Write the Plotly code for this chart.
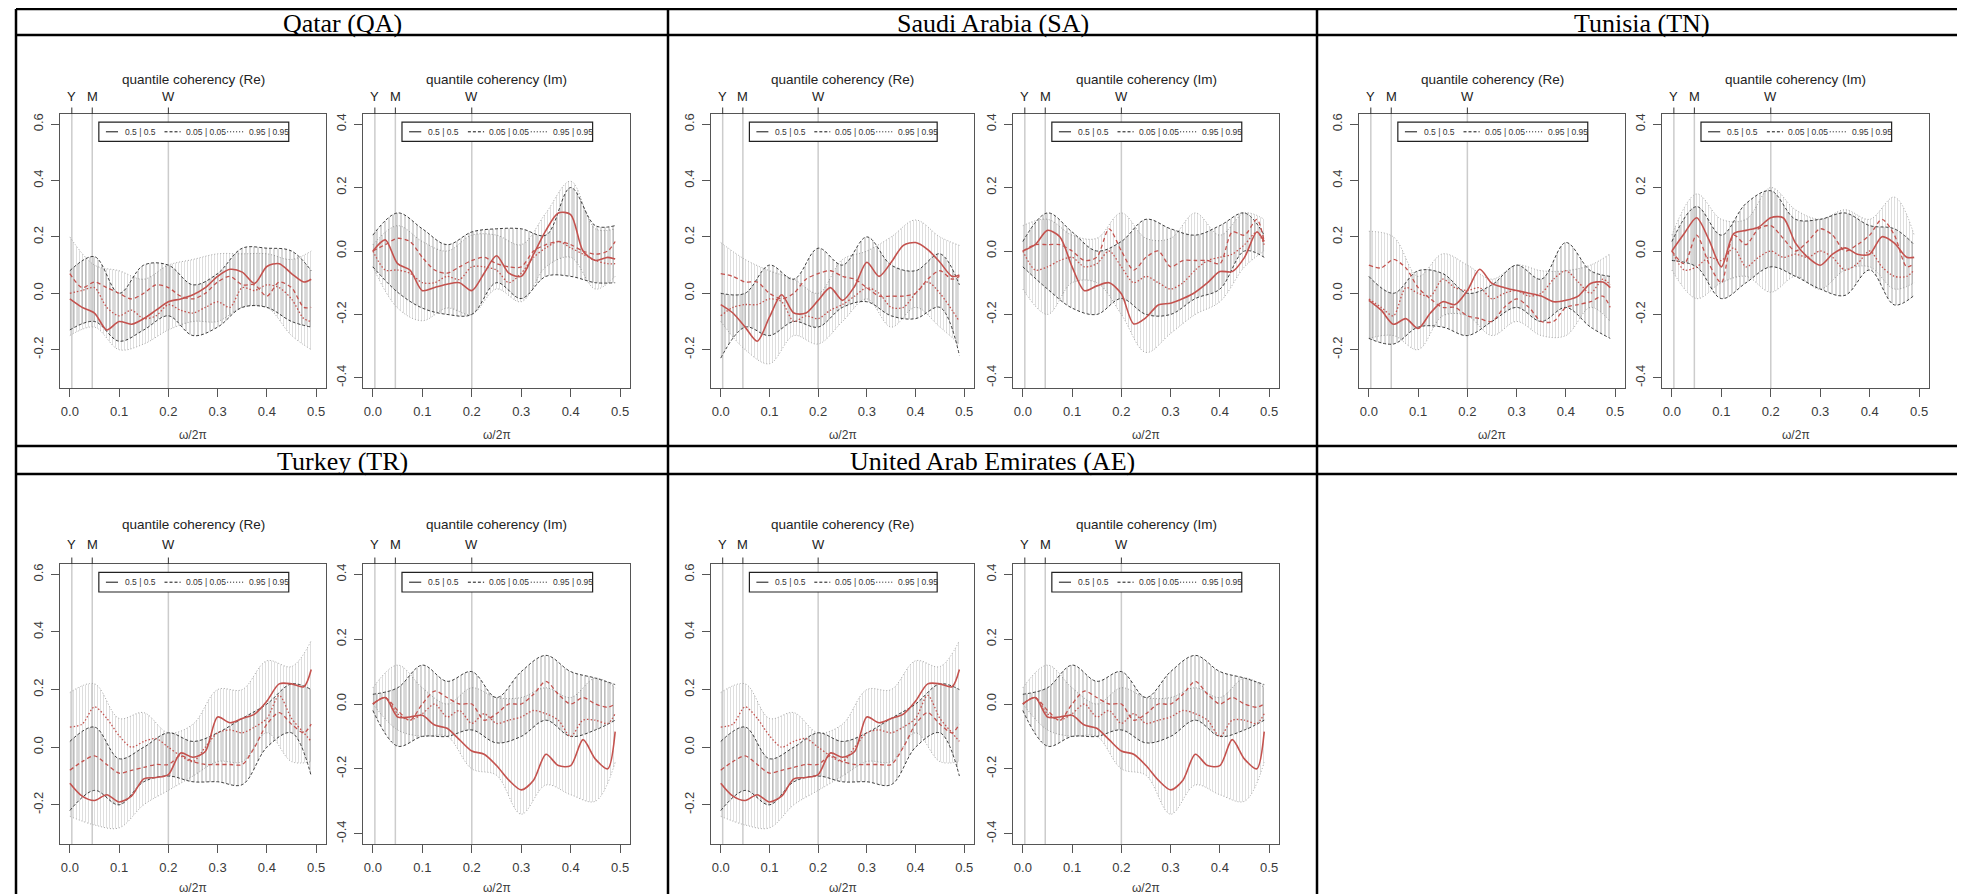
import plotly.graph_objects as go

# ---------------- data ----------------
COUNTRIES = ["Qatar (QA)", "Saudi Arabia (SA)", "Tunisia (TN)", "Turkey (TR)", "United Arab Emirates (AE)"]
PARTS = ["Re", "Im"]
FREQ = [0.0, 0.025, 0.05, 0.075, 0.1, 0.125, 0.15, 0.175, 0.2, 0.225, 0.25,
        0.275, 0.3, 0.325, 0.35, 0.375, 0.4, 0.425, 0.45, 0.475, 0.49]
BAND_FREQ = [0.0, 0.05, 0.1, 0.15, 0.2, 0.25, 0.3, 0.35, 0.4, 0.45, 0.49]
FREQ_MARKS = [1 / 250, 1 / 22, 1 / 5]
FREQ_MARK_LABELS = ["Y", "M", "W"]
X_TICKS = [0.0, 0.1, 0.2, 0.3, 0.4, 0.5]
RE_TICKS = [-0.2, 0.0, 0.2, 0.4, 0.6]
IM_TICKS = [-0.4, -0.2, 0.0, 0.2, 0.4]
RE_RANGE = [-0.336, 0.636]
IM_RANGE = [-0.432, 0.432]
X_RANGE = [-0.02, 0.52]
LEGEND_LABELS = ["0.5 | 0.5", "0.05 | 0.05", "0.95 | 0.95"]

# Qatar
QA_RE_MED = [-0.02, -0.05, -0.07, -0.13, -0.10, -0.11, -0.09, -0.06, -0.03, -0.02, -0.005, 0.02, 0.06, 0.085, 0.075, 0.035, 0.095, 0.105, 0.07, 0.04, 0.05]
QA_RE_Q05 = [0.07, 0.02, 0.04, 0.02, 0.0, -0.02, 0.0, 0.03, 0.02, -0.01, -0.02, 0.0, 0.04, 0.06, 0.03, 0.03, -0.01, 0.04, 0.02, -0.05, -0.05]
QA_RE_Q95 = [0.0, 0.01, 0.02, -0.05, -0.08, -0.06, -0.09, -0.08, -0.04, -0.06, -0.07, -0.05, -0.03, -0.05, 0.02, 0.01, 0.03, 0.02, -0.02, -0.09, -0.10]
QA_RE_DARK_LO = [-0.13, -0.10, -0.17, -0.13, -0.08, -0.15, -0.12, -0.05, -0.05, -0.10, -0.12]
QA_RE_DARK_HI = [0.08, 0.13, 0.0, 0.10, 0.10, 0.03, 0.07, 0.16, 0.16, 0.15, 0.08]
QA_RE_LIGHT_LO = [-0.15, -0.12, -0.20, -0.18, -0.13, -0.10, -0.10, -0.05, -0.05, -0.15, -0.20]
QA_RE_LIGHT_HI = [0.20, 0.10, 0.08, 0.05, 0.10, 0.12, 0.14, 0.14, 0.14, 0.12, 0.15]

QA_IM_MED = [0.0, 0.035, -0.04, -0.06, -0.125, -0.115, -0.105, -0.10, -0.125, -0.07, -0.015, -0.07, -0.08, -0.01, 0.065, 0.12, 0.115, 0.0, -0.03, -0.02, -0.025]
QA_IM_Q05 = [0.0, 0.02, 0.04, 0.03, -0.02, -0.06, -0.07, -0.05, -0.03, -0.02, -0.04, -0.05, -0.05, 0.0, 0.02, 0.03, 0.02, 0.0, -0.01, 0.0, 0.03]
QA_IM_Q95 = [0.0, -0.06, -0.06, -0.07, -0.10, -0.10, -0.08, -0.09, -0.05, -0.05, -0.06, -0.10, -0.07, -0.02, 0.01, 0.03, 0.01, -0.01, -0.03, -0.04, -0.04]
QA_IM_DARK_LO = [-0.05, -0.13, -0.18, -0.20, -0.20, -0.10, -0.15, -0.08, -0.08, -0.10, -0.10]
QA_IM_DARK_HI = [0.05, 0.12, 0.07, 0.02, 0.06, 0.07, 0.07, 0.05, 0.20, 0.08, 0.08]
QA_IM_LIGHT_LO = [-0.05, -0.18, -0.22, -0.18, -0.20, -0.12, -0.16, -0.05, -0.02, -0.12, -0.08]
QA_IM_LIGHT_HI = [0.02, 0.08, 0.03, 0.0, 0.05, 0.05, 0.02, 0.12, 0.22, 0.07, 0.07]

# Saudi Arabia
SA_RE_MED = [-0.04, -0.07, -0.12, -0.17, -0.085, -0.005, -0.07, -0.07, -0.025, 0.02, -0.025, 0.025, 0.11, 0.06, 0.11, 0.17, 0.18, 0.155, 0.11, 0.06, 0.065]
SA_RE_Q05 = [0.07, 0.06, 0.04, 0.04, 0.0, -0.02, 0.0, 0.05, 0.07, 0.08, 0.06, 0.05, 0.02, -0.01, -0.01, -0.01, 0.0, 0.05, 0.08, 0.05, 0.06]
SA_RE_Q95 = [-0.08, -0.05, -0.04, -0.04, -0.02, -0.03, -0.10, -0.08, -0.09, -0.06, -0.04, -0.01, 0.02, 0.0, -0.05, -0.05, 0.0, 0.04, 0.0, -0.06, -0.10]
SA_RE_DARK_LO = [-0.23, -0.12, -0.15, -0.10, -0.12, -0.05, -0.03, -0.08, -0.09, -0.05, -0.22]
SA_RE_DARK_HI = [0.0, 0.0, 0.10, 0.05, 0.16, 0.10, 0.20, 0.10, 0.08, 0.14, 0.03]
SA_RE_LIGHT_LO = [-0.10, -0.20, -0.25, -0.15, -0.18, -0.10, -0.02, -0.12, -0.05, -0.12, -0.18]
SA_RE_LIGHT_HI = [0.18, 0.12, 0.08, 0.05, 0.0, 0.12, 0.15, 0.20, 0.26, 0.20, 0.17]

SA_IM_MED = [0.0, 0.02, 0.065, 0.045, -0.05, -0.125, -0.11, -0.10, -0.135, -0.23, -0.21, -0.17, -0.165, -0.15, -0.13, -0.10, -0.065, -0.065, -0.02, 0.06, 0.03]
SA_IM_Q05 = [0.0, 0.02, 0.02, 0.02, 0.0, -0.03, -0.02, 0.07, 0.0, -0.06, -0.02, 0.0, -0.05, -0.03, -0.03, -0.03, -0.04, 0.06, 0.05, 0.10, 0.03]
SA_IM_Q95 = [0.0, -0.06, -0.05, -0.03, -0.02, -0.05, -0.04, 0.0, -0.05, -0.10, -0.08, -0.10, -0.12, -0.10, -0.06, -0.03, -0.02, -0.01, 0.02, 0.06, 0.02]
SA_IM_DARK_LO = [-0.05, -0.12, -0.18, -0.20, -0.15, -0.20, -0.20, -0.15, -0.12, 0.0, -0.02]
SA_IM_DARK_HI = [0.03, 0.12, 0.06, 0.0, 0.03, 0.10, 0.07, 0.05, 0.08, 0.12, 0.05]
SA_IM_LIGHT_LO = [-0.12, -0.20, -0.10, -0.10, -0.20, -0.32, -0.26, -0.20, -0.16, -0.05, 0.0]
SA_IM_LIGHT_HI = [0.08, 0.10, 0.05, 0.04, 0.12, 0.04, 0.04, 0.12, 0.05, 0.12, 0.10]

# Tunisia
TN_RE_MED = [-0.025, -0.06, -0.11, -0.09, -0.125, -0.07, -0.03, -0.04, 0.01, 0.085, 0.035, 0.02, 0.01, 0.0, -0.01, -0.03, -0.025, -0.01, 0.035, 0.04, 0.02]
TN_RE_Q05 = [0.10, 0.09, 0.12, 0.09, 0.02, -0.02, -0.05, -0.05, -0.08, -0.09, -0.10, -0.05, -0.02, -0.05, -0.10, -0.10, -0.05, -0.04, -0.03, -0.01, -0.05]
TN_RE_Q95 = [-0.02, -0.05, -0.08, 0.02, 0.0, -0.01, 0.05, 0.02, 0.01, 0.02, -0.02, 0.0, 0.01, -0.01, 0.0, 0.05, 0.08, 0.04, 0.0, 0.05, 0.03]
TN_RE_DARK_LO = [-0.16, -0.18, -0.12, -0.12, -0.15, -0.10, -0.05, -0.10, -0.05, -0.12, -0.16]
TN_RE_DARK_HI = [0.06, 0.0, 0.08, 0.07, 0.0, 0.03, 0.10, 0.05, 0.18, 0.08, 0.06]
TN_RE_LIGHT_LO = [-0.16, -0.15, -0.20, -0.08, -0.08, -0.15, -0.10, -0.15, -0.15, -0.05, -0.10]
TN_RE_LIGHT_HI = [0.22, 0.20, 0.06, 0.14, 0.10, 0.05, 0.10, 0.08, 0.08, 0.10, 0.14]

TN_IM_MED = [0.0, 0.055, 0.105, 0.035, -0.05, 0.055, 0.065, 0.075, 0.105, 0.105, 0.025, -0.02, -0.045, -0.01, 0.01, -0.01, -0.01, 0.045, 0.025, -0.02, -0.02]
TN_IM_Q05 = [0.0, -0.04, 0.05, -0.04, -0.10, 0.05, 0.02, 0.07, 0.08, 0.04, 0.0, 0.03, 0.07, 0.05, 0.0, 0.02, 0.05, 0.10, 0.05, -0.05, -0.04]
TN_IM_Q95 = [0.0, -0.06, -0.05, -0.02, -0.03, 0.01, -0.05, -0.02, 0.0, -0.02, -0.01, -0.02, 0.0, -0.02, -0.06, -0.04, 0.0, -0.05, -0.08, -0.08, -0.06]
TN_IM_DARK_LO = [-0.03, -0.05, -0.15, -0.10, -0.05, -0.08, -0.12, -0.14, -0.06, -0.17, -0.14]
TN_IM_DARK_HI = [0.03, 0.14, 0.05, 0.15, 0.19, 0.10, 0.10, 0.12, 0.08, 0.07, 0.02]
TN_IM_LIGHT_LO = [-0.06, -0.15, -0.10, -0.08, -0.13, -0.08, -0.12, -0.06, -0.05, -0.12, -0.10]
TN_IM_LIGHT_HI = [0.05, 0.18, 0.10, 0.10, 0.20, 0.13, 0.10, 0.13, 0.10, 0.17, 0.05]

# Turkey
TR_RE_MED = [-0.125, -0.17, -0.185, -0.165, -0.19, -0.17, -0.11, -0.105, -0.095, -0.02, -0.035, -0.015, 0.105, 0.085, 0.10, 0.115, 0.16, 0.22, 0.22, 0.21, 0.27]
TR_RE_Q05 = [-0.08, -0.05, -0.03, -0.06, -0.09, -0.08, -0.07, -0.06, -0.06, -0.03, -0.05, -0.06, -0.06, -0.06, -0.06, 0.0, 0.08, 0.12, 0.08, 0.05, 0.08]
TR_RE_Q95 = [0.07, 0.08, 0.14, 0.10, 0.04, 0.0, 0.02, 0.03, 0.0, -0.03, -0.05, 0.0, 0.05, 0.06, 0.05, 0.07, 0.10, 0.18, 0.10, 0.05, 0.02]
TR_RE_DARK_LO = [-0.22, -0.15, -0.20, -0.12, -0.10, -0.12, -0.12, -0.13, 0.0, 0.05, -0.10]
TR_RE_DARK_HI = [0.02, 0.07, -0.04, 0.0, 0.05, 0.02, 0.05, 0.10, 0.15, 0.22, 0.20]
TR_RE_LIGHT_LO = [-0.24, -0.27, -0.28, -0.20, -0.15, -0.10, -0.05, -0.05, 0.05, -0.05, -0.05]
TR_RE_LIGHT_HI = [0.19, 0.22, 0.10, 0.12, 0.05, 0.08, 0.20, 0.20, 0.30, 0.28, 0.37]

TR_IM_MED = [0.0, 0.02, -0.04, -0.04, -0.035, -0.065, -0.075, -0.11, -0.145, -0.155, -0.19, -0.235, -0.265, -0.235, -0.155, -0.19, -0.19, -0.11, -0.17, -0.20, -0.085]
TR_IM_Q05 = [0.0, 0.02, -0.02, -0.05, 0.0, 0.04, 0.02, 0.0, 0.0, -0.05, -0.03, 0.0, 0.0, 0.03, 0.07, 0.03, 0.0, 0.02, 0.0, -0.01, 0.0]
TR_IM_Q95 = [0.0, 0.02, -0.03, -0.05, -0.03, 0.0, -0.04, -0.02, -0.06, -0.03, -0.06, -0.05, -0.04, -0.02, -0.03, -0.05, -0.10, -0.05, -0.05, -0.06, -0.03]
TR_IM_DARK_LO = [-0.02, -0.13, -0.10, -0.10, -0.08, -0.12, -0.10, -0.05, -0.10, -0.08, -0.05]
TR_IM_DARK_HI = [0.03, 0.05, 0.12, 0.07, 0.10, 0.02, 0.10, 0.15, 0.10, 0.08, 0.06]
TR_IM_LIGHT_LO = [0.0, -0.08, -0.10, -0.10, -0.20, -0.22, -0.34, -0.25, -0.28, -0.30, -0.18]
TR_IM_LIGHT_HI = [0.05, 0.12, 0.05, 0.0, 0.05, 0.02, 0.02, 0.05, 0.02, 0.08, 0.05]

# United Arab Emirates (the picture shows the same curves as Turkey)
AE_RE_MED, AE_RE_Q05, AE_RE_Q95 = TR_RE_MED, TR_RE_Q05, TR_RE_Q95
AE_RE_DARK_LO, AE_RE_DARK_HI = TR_RE_DARK_LO, TR_RE_DARK_HI
AE_RE_LIGHT_LO, AE_RE_LIGHT_HI = TR_RE_LIGHT_LO, TR_RE_LIGHT_HI
AE_IM_MED, AE_IM_Q05, AE_IM_Q95 = TR_IM_MED, TR_IM_Q05, TR_IM_Q95
AE_IM_DARK_LO, AE_IM_DARK_HI = TR_IM_DARK_LO, TR_IM_DARK_HI
AE_IM_LIGHT_LO, AE_IM_LIGHT_HI = TR_IM_LIGHT_LO, TR_IM_LIGHT_HI

SERIES = {
    ("Qatar (QA)", "Re"): (QA_RE_MED, QA_RE_Q05, QA_RE_Q95, QA_RE_DARK_LO, QA_RE_DARK_HI, QA_RE_LIGHT_LO, QA_RE_LIGHT_HI),
    ("Qatar (QA)", "Im"): (QA_IM_MED, QA_IM_Q05, QA_IM_Q95, QA_IM_DARK_LO, QA_IM_DARK_HI, QA_IM_LIGHT_LO, QA_IM_LIGHT_HI),
    ("Saudi Arabia (SA)", "Re"): (SA_RE_MED, SA_RE_Q05, SA_RE_Q95, SA_RE_DARK_LO, SA_RE_DARK_HI, SA_RE_LIGHT_LO, SA_RE_LIGHT_HI),
    ("Saudi Arabia (SA)", "Im"): (SA_IM_MED, SA_IM_Q05, SA_IM_Q95, SA_IM_DARK_LO, SA_IM_DARK_HI, SA_IM_LIGHT_LO, SA_IM_LIGHT_HI),
    ("Tunisia (TN)", "Re"): (TN_RE_MED, TN_RE_Q05, TN_RE_Q95, TN_RE_DARK_LO, TN_RE_DARK_HI, TN_RE_LIGHT_LO, TN_RE_LIGHT_HI),
    ("Tunisia (TN)", "Im"): (TN_IM_MED, TN_IM_Q05, TN_IM_Q95, TN_IM_DARK_LO, TN_IM_DARK_HI, TN_IM_LIGHT_LO, TN_IM_LIGHT_HI),
    ("Turkey (TR)", "Re"): (TR_RE_MED, TR_RE_Q05, TR_RE_Q95, TR_RE_DARK_LO, TR_RE_DARK_HI, TR_RE_LIGHT_LO, TR_RE_LIGHT_HI),
    ("Turkey (TR)", "Im"): (TR_IM_MED, TR_IM_Q05, TR_IM_Q95, TR_IM_DARK_LO, TR_IM_DARK_HI, TR_IM_LIGHT_LO, TR_IM_LIGHT_HI),
    ("United Arab Emirates (AE)", "Re"): (AE_RE_MED, AE_RE_Q05, AE_RE_Q95, AE_RE_DARK_LO, AE_RE_DARK_HI, AE_RE_LIGHT_LO, AE_RE_LIGHT_HI),
    ("United Arab Emirates (AE)", "Im"): (AE_IM_MED, AE_IM_Q05, AE_IM_Q95, AE_IM_DARK_LO, AE_IM_DARK_HI, AE_IM_LIGHT_LO, AE_IM_LIGHT_HI),
}

# ---------------- layout geometry (pixels) ----------------
W, H = 1965, 894
SANS = "Liberation Sans, Arial, sans-serif"
SERIF = "Liberation Serif, Times New Roman, serif"
RED = "#c4524e"
AXC = "#555555"
TXT = "#3a3a3a"

CELL_X = [8, 660, 1309, 1958]
TABLE_TOP, TABLE_BOTTOM = 1, 894
TITLE_BANDS = [(1, 27), (438, 466)]
ROW_BOX_Y = [(106, 380), (556, 836)]
TITLE_GAP = [35, 40]        # box top -> panel title centre
MARK_GAP = [18, 20]         # box top -> Y/M/W label centre
XLAB_GAP = [47, 44]         # box bottom -> ω/2π centre
COL_BOX_X = [((52, 318), (355, 622)), ((703, 966), (1005, 1271)), ((1351, 1617), (1654, 1921))]
COUNTRY_POS = [(0, 0), (0, 1), (0, 2), (1, 0), (1, 1)]

fig = go.Figure()
shapes = []
annotations = []
layout_axes = {}

k = 0
for country, (row, col) in zip(COUNTRIES, COUNTRY_POS):
    for pi, part in enumerate(PARTS):
        k += 1
        sfx = "" if k == 1 else str(k)
        xa, ya = "x" + sfx, "y" + sfx
        bx0, bx1 = COL_BOX_X[col][pi]
        by0, by1 = ROW_BOX_Y[row]
        box_h = by1 - by0
        med, q05, q95, dlo, dhi, llo, lhi = SERIES[(country, part)]

        # light (grey dotted hatch) band
        fig.add_trace(go.Scatter(x=BAND_FREQ, y=llo, xaxis=xa, yaxis=ya, mode="lines",
                                 line=dict(color="#9c9c9c", width=0.9, dash="1px,2px", shape="spline"),
                                 hoverinfo="skip", showlegend=False))
        fig.add_trace(go.Scatter(x=BAND_FREQ, y=lhi, xaxis=xa, yaxis=ya, mode="lines",
                                 line=dict(color="#9c9c9c", width=0.9, dash="1px,2px", shape="spline"),
                                 fill="tonexty", fillcolor="rgba(255,255,255,0)",
                                 fillpattern=dict(shape="|", size=3, solidity=0.35,
                                                  fgcolor="#bdbdbd", bgcolor="rgba(255,255,255,0)"),
                                 hoverinfo="skip", showlegend=False))
        # dark (black dashed hatch) band
        fig.add_trace(go.Scatter(x=BAND_FREQ, y=dlo, xaxis=xa, yaxis=ya, mode="lines",
                                 line=dict(color="#2a2a2a", width=0.9, dash="3px,2px", shape="spline"),
                                 hoverinfo="skip", showlegend=False))
        fig.add_trace(go.Scatter(x=BAND_FREQ, y=dhi, xaxis=xa, yaxis=ya, mode="lines",
                                 line=dict(color="#2a2a2a", width=0.9, dash="3px,2px", shape="spline"),
                                 fill="tonexty", fillcolor="rgba(255,255,255,0)",
                                 fillpattern=dict(shape="|", size=4, solidity=0.25,
                                                  fgcolor="rgba(25,25,25,0.7)", bgcolor="rgba(255,255,255,0)"),
                                 hoverinfo="skip", showlegend=False))
        # red estimate lines
        for ys, dash, wdt in ((q95, "1.5px,2px", 1.3), (q05, "4px,3px", 1.3), (med, "solid", 1.6)):
            fig.add_trace(go.Scatter(x=FREQ, y=ys, xaxis=xa, yaxis=ya, mode="lines",
                                     line=dict(color=RED, width=wdt, dash=dash, shape="spline", smoothing=0.8),
                                     hoverinfo="skip", showlegend=False))

        is_re = part == "Re"
        layout_axes["xaxis" + sfx] = dict(
            domain=[bx0 / W, bx1 / W], anchor=ya, range=X_RANGE,
            tickvals=X_TICKS, ticktext=["%.1f" % v for v in X_TICKS],
            ticks="outside", ticklen=8, tickcolor=AXC, showline=True, linecolor=AXC,
            linewidth=1, mirror=True, showgrid=False, zeroline=False,
            tickfont=dict(family=SANS, size=13, color=TXT), ticklabelstandoff=3)
        yt = RE_TICKS if is_re else IM_TICKS
        layout_axes["yaxis" + sfx] = dict(
            domain=[1 - by1 / H, 1 - by0 / H], anchor=xa,
            range=RE_RANGE if is_re else IM_RANGE,
            tickvals=yt, ticktext=["%.1f" % v for v in yt], tickangle=-90,
            ticks="outside", ticklen=8, tickcolor=AXC, showline=True, linecolor=AXC,
            linewidth=1, mirror=True, showgrid=False, zeroline=False,
            tickfont=dict(family=SANS, size=13, color=TXT), ticklabelstandoff=3)

        xd, yd = xa + " domain", ya + " domain"
        top_tick = 6.5 / box_h
        for fm, lab in zip(FREQ_MARKS, FREQ_MARK_LABELS):
            shapes.append(dict(type="line", xref=xa, yref=yd, x0=fm, x1=fm, y0=0, y1=1,
                               line=dict(color="#cccccc", width=1.5), layer="below"))
            shapes.append(dict(type="line", xref=xa, yref=yd, x0=fm, x1=fm, y0=1, y1=1 + top_tick,
                               line=dict(color="#333333", width=1)))
            annotations.append(dict(x=fm, y=1 + MARK_GAP[row] / box_h, xref=xa, yref=yd, text=lab,
                                    showarrow=False, font=dict(family=SANS, size=13, color="#222222"),
                                    xanchor="center", yanchor="middle"))
        annotations.append(dict(x=0.5, y=1 + TITLE_GAP[row] / box_h, xref=xd, yref=yd,
                                text="quantile coherency (%s)" % part, showarrow=False,
                                font=dict(family=SANS, size=13.5, color="#222222"),
                                xanchor="center", yanchor="middle"))
        annotations.append(dict(x=0.5, y=-XLAB_GAP[row] / box_h, xref=xd, yref=yd, text="ω/2π",
                                showarrow=False, font=dict(family=SANS, size=12, color=TXT),
                                xanchor="center", yanchor="middle"))

        # in-panel legend
        lx0, lx1, ly0, ly1 = 0.146, 0.86, 0.90, 0.97
        lw = lx1 - lx0
        shapes.append(dict(type="rect", xref=xd, yref=yd, x0=lx0, x1=lx1, y0=ly0, y1=ly1,
                           line=dict(color="#222222", width=1.2), fillcolor="white"))
        ymid = (ly0 + ly1) / 2
        items = [((7, 19), 24, "solid"), ((65, 81), 84, "3px,2px"), ((127, 143), 147, "1px,2px")]
        for ((a, b), t, dsh), lab in zip(items, LEGEND_LABELS):
            shapes.append(dict(type="line", xref=xd, yref=yd,
                               x0=lx0 + lw * a / 188, x1=lx0 + lw * b / 188, y0=ymid, y1=ymid,
                               line=dict(color="#111111", width=1, dash=dsh)))
            annotations.append(dict(x=lx0 + lw * t / 188, y=ymid, xref=xd, yref=yd, text=lab,
                                    showarrow=False, xanchor="left", yanchor="middle",
                                    font=dict(family=SANS, size=8.5, color="#333333")))

# ---------------- table frame and country titles ----------------
def px(xp):
    return xp / W


def py(yp):
    return 1 - yp / H


BORDER = dict(color="black", width=2.5)
for xv in CELL_X:
    shapes.append(dict(type="line", xref="paper", yref="paper", x0=px(xv), x1=px(xv),
                       y0=py(TABLE_TOP), y1=py(TABLE_BOTTOM), line=BORDER))
for (t0, t1) in TITLE_BANDS:
    for yv in (t0, t1):
        shapes.append(dict(type="line", xref="paper", yref="paper", x0=px(CELL_X[0]), x1=px(CELL_X[-1]),
                           y0=py(yv), y1=py(yv), line=BORDER))

for country, (row, col) in zip(COUNTRIES, COUNTRY_POS):
    t0, t1 = TITLE_BANDS[row]
    annotations.append(dict(x=px((CELL_X[col] + CELL_X[col + 1]) / 2), y=py((t0 + t1) / 2 + 1),
                            xref="paper", yref="paper", text=country, showarrow=False,
                            xanchor="center", yanchor="middle",
                            font=dict(family=SERIF, size=26, color="black")))

fig.update_layout(width=W, height=H, autosize=False, margin=dict(l=0, r=0, t=0, b=0),
                  paper_bgcolor="white", plot_bgcolor="white", showlegend=False,
                  shapes=shapes, annotations=annotations, **layout_axes)
fig.write_html("out.html")
